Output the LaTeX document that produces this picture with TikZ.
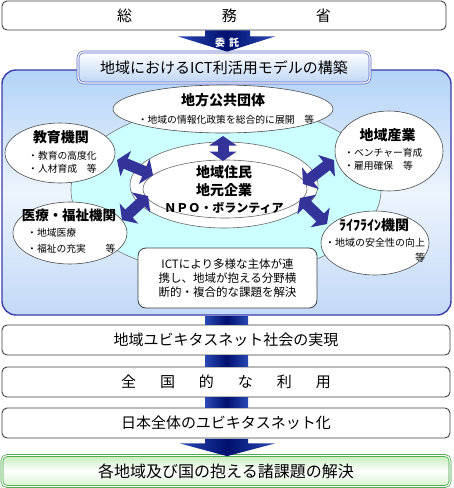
\documentclass[tikz,border=0pt]{standalone}
\usepackage{fontspec}
\setmainfont{Noto Sans CJK JP}
\usetikzlibrary{shapes.geometric,arrows.meta,calc}
\definecolor{navyA}{HTML}{2A48B4}
\definecolor{navyB}{HTML}{00106E}
\definecolor{dblblue}{HTML}{33339A}
\definecolor{cyanfill}{HTML}{CCFFFF}
\definecolor{bigtop}{HTML}{B3D3F7}
\definecolor{bigmid}{HTML}{EDF4FD}
\definecolor{bigbot}{HTML}{C2D9F7}
\definecolor{bigline}{HTML}{3C3CA8}
\definecolor{modelline}{HTML}{5666C4}
\definecolor{modelbot}{HTML}{BFD5F5}
\definecolor{greenline}{HTML}{3AA03A}
\definecolor{greentop}{HTML}{C4EEBC}
\definecolor{greenbot}{HTML}{D6F4CE}
\newcommand\myfs[2]{\fontsize{#1}{#2}\selectfont}
\begin{document}
\begin{tikzpicture}[x=1pt,y=-1pt,
  plainbox/.style={draw=black!75, line width=0.9pt, rounded corners=5pt, fill=white,
    minimum width=448pt, minimum height=30pt, inner sep=0pt, font=\myfs{15}{18}},
  oval/.style={ellipse, draw=black!70, line width=0.6pt, fill=white, inner sep=0pt},
  ttl/.style={inner sep=0pt, font=\bfseries\myfs{14}{16}},
  itm/.style={inner sep=0pt, font=\myfs{9.8}{13}},
  dbl/.style={draw=dblblue, line width=11pt,
    {Triangle[width=27pt,length=9.5pt]}-{Triangle[width=27pt,length=9.5pt]}},
  navyshade/.style={left color=navyA, right color=navyA, middle color=navyB}
]
\useasboundingbox (0,0) rectangle (454,488);

% big region box
\node[draw=bigline, line width=1.4pt, rounded corners=14pt, top color=bigtop,
  bottom color=bigbot, middle color=bigmid, minimum width=449pt, minimum height=245pt,
  inner sep=0pt] (big) at (226.5,192.5) {};

% cyan blob
\node[ellipse, draw=black!55, line width=0.6pt, fill=cyanfill, inner sep=0pt,
  minimum width=310pt, minimum height=170pt] (region) at (226,190) {};

% surrounding actors
\node[oval, minimum width=220pt, minimum height=48pt] (chiho) at (223,109) {};
\node[oval, minimum width=110pt, minimum height=60pt] (kyoiku) at (60,153) {};
\node[oval, minimum width=114pt, minimum height=62pt] (iryo) at (70,233) {};
\node[oval, minimum width=108pt, minimum height=80pt] (sangyo) at (389,151) {};
\node[oval, minimum width=108pt, minimum height=64pt] (life) at (375,243) {};

% centre
\node[oval, draw=black!60, minimum width=188pt, minimum height=86pt] (ring) at (224,185) {};
\node[oval, draw=black!60, minimum width=164pt, minimum height=58pt] (center) at (225,189) {};
\node[inner sep=0pt, align=center, font=\bfseries\myfs{14}{17.5}] (ctext) at (224,190)
  {地域住民\\地元企業\\{\myfs{12}{14}ＮＰＯ・ボランティア}};

% texts of actors
\node[ttl] (chihoT) at (223,100) {地方公共団体};
\node[itm] (chihoI) at (226,120) {・地域の情報化政策を総合的に展開　等};
\node[ttl] (kyoikuT) at (61,137) {教育機関};
\node[itm, align=left, anchor=west] (kyoikuI) at (28,162.5) {・教育の高度化\\・人材育成　等};
\node[ttl, font=\bfseries\myfs{13.5}{16}] (iryoT) at (69,215) {医療・福祉機関};
\node[itm, align=left, anchor=west, font=\myfs{9.8}{16}] (iryoI) at (27,241) {・地域医療\\・福祉の充実　　等};
\node[ttl] (sangyoT) at (387.5,135) {地域産業};
\node[itm, align=left, anchor=west] (sangyoI) at (344,159.5) {・ベンチャー育成\\・雇用確保　等};
\node[ttl] (lifeT) at (374,225) {ﾗｲﾌﾗｲﾝ機関};
\node[itm, align=right, font=\myfs{10}{15}] (lifeI) at (375,250.5) {・地域の安全性の向上\\等};

% ICT text box
\node[draw=black!75, line width=0.8pt, rounded corners=8pt, fill=white, inner sep=0pt,
  minimum width=179pt, minimum height=60pt, align=center, font=\myfs{11.5}{14}]
  (ictbox) at (227.5,278)
  {ICTにより多様な主体が連\\携し、地域が抱える分野横\\断的・複合的な課題を解決};

% double arrows
\coordinate (u1) at (223,136); \coordinate (u2) at (223,161);
\coordinate (k1) at (117,160); \coordinate (k2) at (153,175);
\coordinate (i1) at (122,220); \coordinate (i2) at (148,196);
\coordinate (s1) at (303,184); \coordinate (s2) at (334,160);
\coordinate (l1) at (300,198); \coordinate (l2) at (327,224);
\draw[dbl] (u1) -- (u2);
\draw[dbl] (k1) -- (k2);
\draw[dbl] (i1) -- (i2);
\draw[dbl] (s1) -- (s2);
\draw[dbl] (l1) -- (l2);

% model box
\node[draw=modelline, line width=0.7pt, double=white, double distance=1.2pt,
  rounded corners=6pt, top color=white, bottom color=modelbot, minimum width=292pt,
  minimum height=31pt, inner sep=0pt, font=\myfs{15}{18}] (model) at (224,67.5)
  {地域におけるICT利活用モデルの構築};

% top box
\node[plainbox, minimum width=444pt, minimum height=29pt] (somu) at (224,15.5)
  {総\hspace{90pt}務\hspace{79pt}省};

% top arrow
\shade[navyshade] ($(somu.south)+(-19,0)$) -- ($(somu.south)+(26,0)$) -- ($(somu.south)+(26,6)$)
  -- ($(somu.south)+(51,6)$) -- ($(model.north)+(3,0)$) -- ($(somu.south)+(-46,6)$)
  -- ($(somu.south)+(-19,6)$) -- cycle;
\node[inner sep=0pt, text=white, font=\bfseries\myfs{10}{11}] (itaku) at (227,43) {委\hspace{4pt}託};

% lower boxes
\node[plainbox] (r1) at (226,340) {地域ユビキタスネット社会の実現};
\node[plainbox] (r2) at (226,382) {全\hspace{24pt}国\hspace{24pt}的\hspace{24pt}な\hspace{24pt}利\hspace{24pt}用};
\node[plainbox] (r3) at (226,423) {日本全体のユビキタスネット化};

% shafts
\shade[navyshade] ($(big.south)+(-21.5,0.8)$) rectangle ($(r1.north)+(22,-0.5)$);
\shade[navyshade] ($(r1.south)+(-21,0.5)$) rectangle ($(r2.north)+(22,-0.5)$);
\shade[navyshade] ($(r2.south)+(-21,0.5)$) rectangle ($(r3.north)+(22,-0.5)$);

% green result box
\node[draw=greenline, line width=0.7pt, double=white, double distance=1.2pt,
  rounded corners=5pt, top color=greentop, bottom color=greenbot, middle color=white,
  minimum width=448pt, minimum height=31pt, inner sep=0pt, font=\myfs{16}{18}]
  (goal) at (226,471) {各地域及び国の抱える諸課題の解決};

% bottom arrow
\shade[navyshade] ($(r3.south)+(-21,0.5)$) -- ($(r3.south)+(22,0.5)$) -- ($(r3.south)+(22,5)$)
  -- ($(r3.south)+(49,5)$) -- ($(goal.north)+(1,1)$) -- ($(r3.south)+(-46,5)$)
  -- ($(r3.south)+(-21,5)$) -- cycle;
\end{tikzpicture}
\end{document}
